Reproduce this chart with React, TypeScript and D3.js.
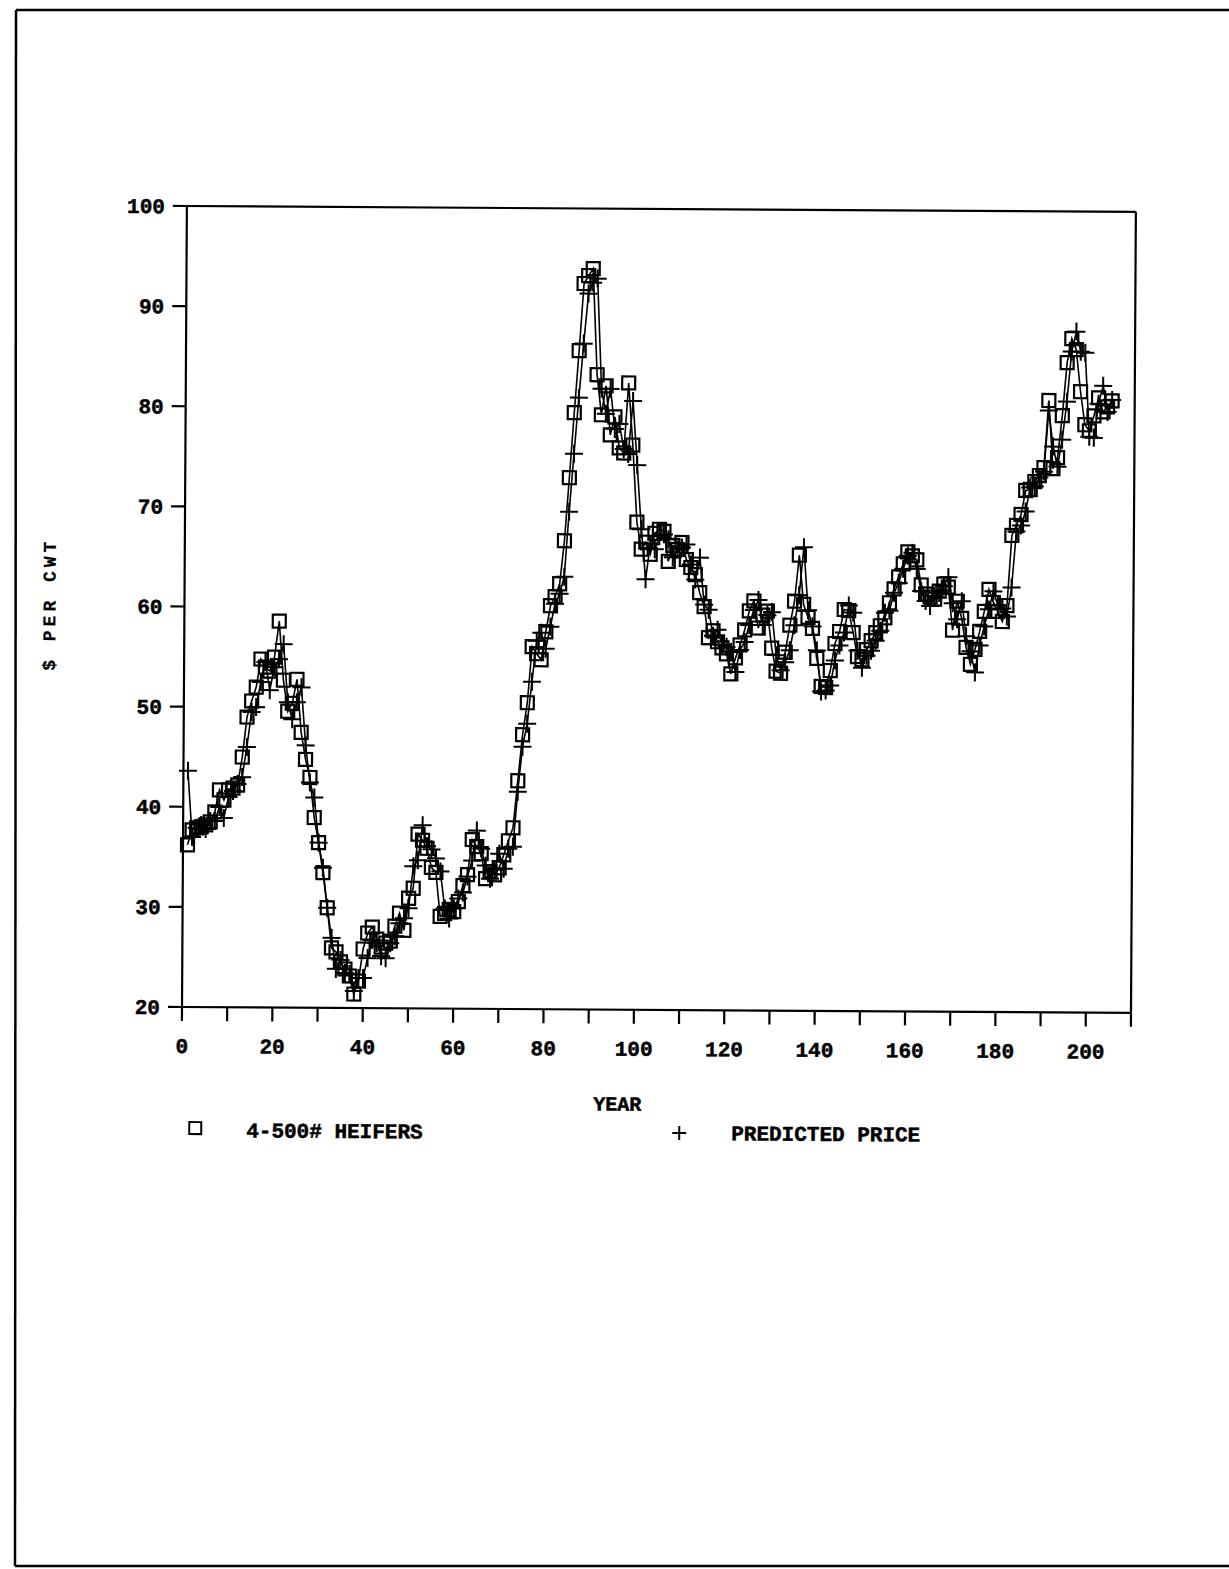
import React from 'react'
import * as d3 from 'd3'

// monthly observations, index 1..205
const heifers = [
  36.2, 37.7, 37.9, 38.0, 38.2, 38.5, 39.5, 41.7, 40.7, 41.7,
  41.9, 42.2, 45.0, 49.0, 50.6, 52.0, 54.8, 54.0, 53.6, 55.0,
  58.6, 52.7, 49.6, 50.4, 52.8, 47.5, 44.8, 43.0, 39.0, 36.5,
  33.5, 30.0, 26.0, 25.6, 24.6, 23.9, 23.2, 21.4, 22.7, 25.9,
  27.5, 28.1, 26.9, 26.1, 26.5, 26.7, 28.2, 29.5, 27.8, 31.0,
  32.0, 37.4, 36.8, 36.0, 34.1, 33.6, 29.2, 29.5, 29.9, 29.7,
  30.7, 32.3, 33.4, 36.9, 36.2, 35.5, 33.0, 33.7, 33.4, 34.1,
  35.4, 36.8, 38.1, 42.8, 47.4, 50.6, 56.2, 55.5, 54.9, 57.7,
  60.3, 61.2, 62.5, 66.8, 73.1, 79.6, 85.8, 92.5, 93.3, 94.0,
  83.4, 79.4, 82.3, 77.4, 79.2, 76.1, 75.6, 82.6, 76.4, 68.7,
  66.0, 66.7, 65.5, 67.6, 68.0, 67.8, 64.8, 66.4, 66.0, 66.7,
  65.0, 64.2, 63.5, 61.7, 60.3, 57.2, 57.9, 56.8, 56.2, 55.6,
  53.6, 55.2, 56.5, 58.0, 59.9, 60.9, 58.2, 59.5, 59.9, 56.2,
  53.9, 53.7, 55.8, 58.5, 60.9, 65.5, 60.6, 59.3, 58.2, 55.2,
  52.4, 52.3, 54.0, 56.7, 57.9, 60.1, 60.0, 57.8, 55.4, 55.1,
  56.1, 57.0, 57.8, 58.5, 59.3, 60.8, 62.2, 63.4, 64.7, 65.9,
  65.5, 65.1, 62.6, 61.7, 61.4, 61.2, 62.0, 62.7, 62.4, 58.1,
  61.0, 59.3, 56.4, 54.7, 56.2, 58.0, 60.0, 62.2, 60.9, 60.0,
  59.0, 60.6, 67.6, 68.6, 69.7, 72.1, 72.2, 73.0, 73.6, 74.4,
  81.1, 74.3, 75.4, 79.6, 84.9, 87.3, 86.2, 82.0, 78.7, 78.1,
  79.6, 81.4, 80.0, 80.5, 81.1
]

const predicted = [
  43.6, 37.0, 37.9, 38.2, 37.8, 38.6, 38.6, 40.0, 38.9, 41.0,
  41.6, 42.3, 43.0, 46.0, 49.5, 50.0, 52.5, 54.5, 51.7, 54.0,
  54.8, 56.3, 50.5, 48.8, 50.5, 52.0, 46.2, 42.5, 41.0, 36.5,
  34.0, 30.0, 27.0, 23.9, 24.8, 23.5, 23.4, 21.7, 23.0, 23.0,
  25.0, 26.8, 26.5, 25.2, 25.0, 26.5, 27.2, 28.5, 29.0, 30.0,
  34.2, 34.8, 38.3, 36.2, 35.9, 35.0, 33.7, 30.0, 29.0, 30.0,
  31.0, 31.6, 33.2, 34.8, 37.8, 36.0, 34.3, 33.0, 33.9, 35.5,
  34.0, 36.0, 36.2, 41.7, 46.2, 48.5, 52.7, 56.8, 57.6, 56.0,
  58.2, 60.5, 61.5, 63.2, 69.7, 75.5, 81.1, 86.5, 91.5, 92.6,
  93.0, 82.0, 79.5, 82.0, 78.0, 78.5, 76.0, 75.5, 80.8, 74.4,
  68.0, 63.0, 66.5, 66.0, 67.3, 67.5, 67.0, 65.2, 66.0, 66.2,
  66.5, 64.5, 63.0, 65.2, 60.5, 60.0, 57.4, 58.0, 56.5, 56.3,
  55.8, 53.8, 56.0, 56.8, 58.5, 60.0, 61.0, 58.5, 59.5, 59.8,
  55.5, 54.0, 54.8, 56.0, 58.5, 61.5, 66.3, 60.0, 58.4, 56.0,
  51.9, 52.0, 52.5, 55.0, 56.5, 57.8, 60.5, 59.8, 56.0, 54.3,
  55.5, 56.0, 57.0, 58.0, 59.8, 60.0, 61.8, 62.8, 64.2, 65.5,
  65.8, 64.2, 62.0, 61.0, 60.5, 61.5, 61.8, 62.5, 63.4, 60.8,
  59.2, 61.0, 57.5, 56.0, 53.9, 56.6, 58.5, 60.2, 62.0, 60.6,
  60.3, 59.5, 62.4, 68.0, 68.6, 70.0, 72.4, 72.5, 73.4, 74.0,
  80.1, 76.5, 74.5, 77.2, 81.0, 86.0, 88.0, 86.0, 85.9, 77.5,
  77.4, 80.8, 82.6, 80.0, 81.2
]

const xTicks = [0, 10, 20, 30, 40, 50, 60, 70, 80, 90, 100, 110, 120, 130, 140, 150, 160, 170, 180, 190, 200, 210]
const xLabels = [0, 20, 40, 60, 80, 100, 120, 140, 160, 180, 200]
const yTicks = [20, 30, 40, 50, 60, 70, 80, 90, 100]

const font = "'Liberation Mono', 'Courier New', monospace"

export default function App() {
  const W = 1229
  const H = 1569
  const left = 182
  const right = 1131
  const top = 206
  const bottom = 1007

  const x = d3.scaleLinear().domain([0, 210]).range([left, right])
  const y = d3.scaleLinear().domain([20, 100]).range([bottom, top])

  const line = d3
    .line<number>()
    .x((d, i) => x(i + 1))
    .y(d => y(d))

  const txt = {
    fontFamily: font,
    fontWeight: 700,
    fontSize: 21,
    fill: '#000',
    stroke: '#000',
    strokeWidth: 0.5
  }

  return (
    <svg
      width={W}
      height={H}
      style={{ position: 'absolute', left: 0, top: 0, background: '#fff' }}
    >
      {/* page edges of the scan */}
      <g stroke="#000" strokeWidth={2.5} fill="none">
        <line x1={16} y1={10} x2={1229} y2={10} />
        <line x1={16} y1={10} x2={15} y2={1566} />
        <line x1={15} y1={1566} x2={1229} y2={1566} />
      </g>

      <g transform={`rotate(0.35, ${left}, ${bottom})`}>
        {/* frame */}
        <g stroke="#000" strokeWidth={2.2} fill="none">
          <line x1={left} y1={bottom} x2={right} y2={bottom} />
          <line x1={left} y1={bottom} x2={left} y2={top} />
          <line x1={left} y1={top} x2={right} y2={top} />
          <line x1={right} y1={top} x2={right} y2={bottom} />
        </g>

        {/* y axis */}
        {yTicks.map(t => (
          <g key={'y' + t}>
            <line x1={left - 14} x2={left} y1={y(t)} y2={y(t)} stroke="#000" strokeWidth={2.2} />
            <text x={left - 22} y={y(t)} dy="0.35em" textAnchor="end" {...txt}>
              {t}
            </text>
          </g>
        ))}

        {/* x axis */}
        {xTicks.map(t => (
          <line
            key={'x' + t}
            x1={x(t)}
            x2={x(t)}
            y1={bottom}
            y2={bottom + 14}
            stroke="#000"
            strokeWidth={2.2}
          />
        ))}
        {xLabels.map(t => (
          <text key={'xl' + t} x={x(t)} y={bottom + 46} textAnchor="middle" {...txt}>
            {t}
          </text>
        ))}

        <text x={618} y={bottom + 101} textAnchor="middle" {...txt} fontSize={20}>
          YEAR
        </text>

        <text
          transform={`translate(53, 605) rotate(-90)`}
          textAnchor="middle"
          {...txt}
          fontSize={18}
          strokeWidth={0.2}
          letterSpacing={4}
        >
          $ PER CWT
        </text>

        {/* series lines */}
        <path d={line(predicted) || ''} fill="none" stroke="#000" strokeWidth={1.6} />
        <path d={line(heifers) || ''} fill="none" stroke="#000" strokeWidth={1.6} />

        {/* predicted markers */}
        <g stroke="#000" strokeWidth={2}>
          {predicted.map((d, i) => (
            <g key={'p' + i} transform={`translate(${x(i + 1)},${y(d)})`}>
              <line x1={-9} x2={9} y1={0} y2={0} />
              <line x1={0} x2={0} y1={-9} y2={9} />
            </g>
          ))}
        </g>

        {/* heifer markers */}
        <g stroke="#000" strokeWidth={2.2} fill="none">
          {heifers.map((d, i) => (
            <rect key={'h' + i} x={x(i + 1) - 6.5} y={y(d) - 6.5} width={13} height={13} />
          ))}
        </g>

        {/* legend */}
        <rect x={190} y={1122} width={12} height={12} fill="none" stroke="#000" strokeWidth={2} />
        <text x={247} y={1137} {...txt}>
          4-500# HEIFERS
        </text>
        <g stroke="#000" strokeWidth={2}>
          <line x1={673} x2={687} y1={1130} y2={1130} />
          <line x1={680} x2={680} y1={1123} y2={1137} />
        </g>
        <text x={732} y={1137} {...txt}>
          PREDICTED PRICE
        </text>
      </g>
    </svg>
  )
}
